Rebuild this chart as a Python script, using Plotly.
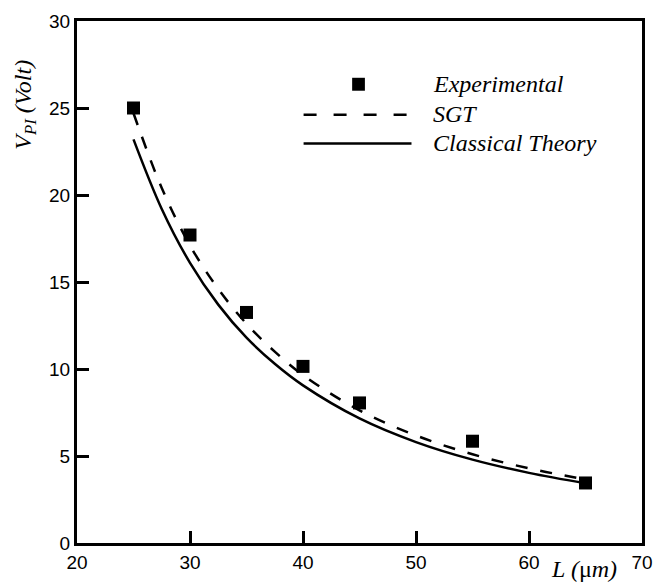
import plotly.graph_objects as go

# Data
exp_L = [25, 30, 35, 40, 45, 55, 65]
exp_V = [25.0, 17.7, 13.25, 10.15, 8.05, 5.85, 3.45]

sgt_L = [25, 27.5, 30, 32.5, 35, 37.5, 40, 45, 50, 55, 60, 65]
sgt_V = [24.7, 20.4, 17.1, 14.6, 12.6, 11.0, 9.65, 7.62, 6.18, 5.10, 4.29, 3.65]

cls_L = [25, 27.5, 30, 32.5, 35, 37.5, 40, 45, 50, 55, 60, 65]
cls_V = [23.2, 19.2, 16.1, 13.7, 11.8, 10.3, 9.06, 7.16, 5.80, 4.79, 4.03, 3.43]

x_ticks = [20, 30, 40, 50, 60, 70]
y_ticks = [0, 5, 10, 15, 20, 25, 30]

serif = "Liberation Serif, Times New Roman, serif"
sans = "Liberation Sans, Arial, sans-serif"
dash_pat = "12px,13px"

fig = go.Figure()
fig.add_trace(go.Scatter(x=cls_L, y=cls_V, mode="lines", line=dict(color="black", width=2.5, shape="spline"),
                         showlegend=False))
fig.add_trace(go.Scatter(x=sgt_L, y=sgt_V, mode="lines",
                         line=dict(color="black", width=2.5, dash=dash_pat, shape="spline"),
                         showlegend=False))
fig.add_trace(go.Scatter(x=exp_L, y=exp_V, mode="markers",
                         marker=dict(symbol="square", size=13, color="black"), showlegend=False))

# Manual legend (paper coordinates)
def px_x(p):
    return (p - 77) / 576

def px_y(p):
    return (545 - p) / 524

shapes = []
shapes.append(dict(type="rect", xref="paper", yref="paper",
                   x0=px_x(357.5), x1=px_x(370.5), y0=px_y(91), y1=px_y(78),
                   fillcolor="black", line=dict(width=0)))
shapes.append(dict(type="line", xref="paper", yref="paper",
                   x0=px_x(308), x1=px_x(418), y0=px_y(115), y1=px_y(115),
                   line=dict(color="black", width=2.5, dash="13px,17px")))
shapes.append(dict(type="line", xref="paper", yref="paper",
                   x0=px_x(308), x1=px_x(418), y0=px_y(144), y1=px_y(144),
                   line=dict(color="black", width=2.5)))

annotations = []
for txt, py in [("Experimental", 84), ("SGT", 114), ("Classical Theory", 143)]:
    annotations.append(dict(text="<i>" + txt + "</i>", xref="paper", yref="paper",
                            x=px_x(438), y=px_y(py), xanchor="left", yanchor="middle",
                            showarrow=False, font=dict(family=serif, size=24, color="black")))

annotations.append(dict(text="<i>V<sub>PI</sub> (Volt)</i>", xref="paper", yref="paper",
                        x=px_x(24), y=px_y(105), xanchor="center", yanchor="middle", textangle=-90,
                        showarrow=False, font=dict(family=serif, size=24, color="black")))
annotations.append(dict(text="<i>L (</i>\u03bc<i>m)</i>", xref="paper", yref="paper",
                        x=px_x(594), y=px_y(571), xanchor="center", yanchor="middle",
                        showarrow=False, font=dict(family=serif, size=24, color="black")))

fig.update_layout(
    width=664, height=584,
    margin=dict(l=77, r=11, t=21, b=39),
    plot_bgcolor="white", paper_bgcolor="white",
    shapes=shapes, annotations=annotations,
    xaxis=dict(range=[20, 70], tickvals=x_ticks, ticks="inside", ticklen=12, tickwidth=2.5,
               tickcolor="black", showline=True, linewidth=3, linecolor="black", mirror=True,
               showgrid=False, zeroline=False, tickfont=dict(family=sans, size=19, color="black")),
    yaxis=dict(range=[0, 30], tickvals=y_ticks, ticks="inside", ticklen=12, tickwidth=2.5,
               tickcolor="black", showline=True, linewidth=3, linecolor="black", mirror=True,
               showgrid=False, zeroline=False, tickfont=dict(family=sans, size=19, color="black")),
)

fig.write_html("out.html")
